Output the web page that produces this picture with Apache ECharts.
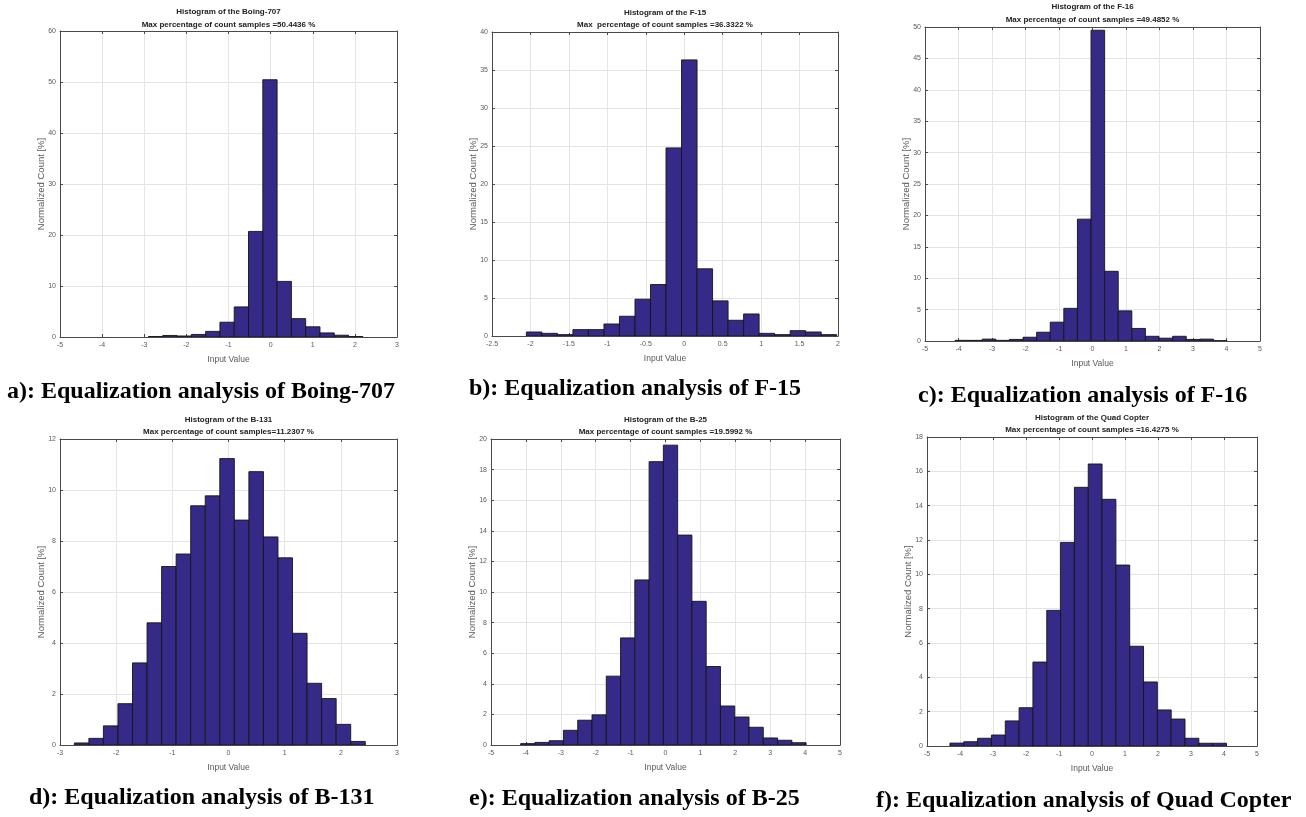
<!DOCTYPE html>
<html>
<head>
<meta charset="utf-8">
<title>Equalization analysis histograms</title>
<script src="https://cdn.jsdelivr.net/npm/echarts@6/dist/echarts.min.js"></script>
<style>
  html, body { margin: 0; background: #fff; }
  #chart { width: 1306px; height: 817px; }
</style>
</head>
<body>
<div id="chart"></div>
<script>
// bins: [first bin edge, bin width], heights in % per bin
const boingBins = [-2.9, 0.3393]
const boingCounts = [0.1, 0.3, 0.2, 0.5, 1.1, 2.9, 5.9, 20.7, 50.4436, 10.9, 3.6, 2.0, 0.8, 0.35, 0.1]

const f15Bins = [-2.053, 0.2018]
const f15Counts = [0.53, 0.35, 0.18, 0.84, 0.84, 1.58, 2.6, 4.84, 6.77, 24.75, 36.3322, 8.84, 4.62, 2.07, 2.9, 0.35, 0.18, 0.7, 0.53, 0.18]

const f16Bins = [-4.104, 0.406]
const f16Counts = [0.1, 0.1, 0.3, 0.1, 0.25, 0.6, 1.4, 3.0, 5.2, 19.4, 49.4852, 11.1, 4.8, 2.0, 0.75, 0.45, 0.75, 0.25, 0.3, 0.05]

const b131Bins = [-2.745, 0.259]
const b131Counts = [0.08, 0.26, 0.75, 1.62, 3.22, 4.79, 7.0, 7.49, 9.38, 9.77, 11.2307, 8.82, 10.72, 8.16, 7.34, 4.38, 2.42, 1.82, 0.81, 0.14]

const b25Bins = [-4.151, 0.409]
const b25Counts = [0.09, 0.17, 0.28, 0.96, 1.62, 1.97, 4.5, 7.0, 10.79, 18.52, 19.5992, 13.72, 9.39, 5.13, 2.55, 1.83, 1.16, 0.46, 0.31, 0.15]

const quadBins = [-4.304, 0.419]
const quadCounts = [0.17, 0.25, 0.45, 0.64, 1.46, 2.23, 4.89, 7.9, 11.86, 15.07, 16.4275, 14.37, 10.54, 5.81, 3.73, 2.1, 1.57, 0.45, 0.16, 0.16]

// axis ranges: [min, max, interval]
const xRanges = [[-5, 3, 1], [-2.5, 2, 0.5], [-5, 5, 1], [-3, 3, 1], [-5, 5, 1], [-5, 5, 1]]
const yRanges = [[0, 60, 10], [0, 40, 5], [0, 50, 5], [0, 12, 2], [0, 20, 2], [0, 18, 2]]

const titles = [
  ['Histogram of the Boing-707', 'Max percentage of count samples =50.4436 %'],
  ['Histogram of the F-15', 'Max  percentage of count samples =36.3322 %'],
  ['Histogram of the F-16', 'Max percentage of count samples =49.4852 %'],
  ['Histogram of the B-131', 'Max percentage of count samples=11.2307 %'],
  ['Histogram of the B-25', 'Max percentage of count samples =19.5992 %'],
  ['Histogram of the Quad Copter', 'Max percentage of count samples =16.4275 %']
]
const captions = [
  'a): Equalization analysis of Boing-707',
  'b): Equalization analysis of F-15',
  'c): Equalization analysis of F-16',
  'd): Equalization analysis of B-131',
  'e): Equalization analysis of B-25',
  'f): Equalization analysis of Quad Copter'
]

const allBins = [boingBins, f15Bins, f16Bins, b131Bins, b25Bins, quadBins]
const allCounts = [boingCounts, f15Counts, f16Counts, b131Counts, b25Counts, quadCounts]

// panel placement (pixels)
const boxes = [
  { left: 60, top: 31, width: 337, height: 306, titleY: 11.7, capX: 7, capY: 392 },
  { left: 492, top: 32, width: 346, height: 304, titleY: 12.3, capX: 469, capY: 389 },
  { left: 925, top: 27, width: 335, height: 314, titleY: 6.7, capX: 918, capY: 396 },
  { left: 60, top: 439, width: 337, height: 306, titleY: 419.3, capX: 29, capY: 798 },
  { left: 491, top: 439, width: 349, height: 306, titleY: 419.3, capX: 469, capY: 799 },
  { left: 927, top: 437, width: 330, height: 309, titleY: 417.3, capX: 876, capY: 801 }
]

const barColor = '#352a87'
const axisColor = '#4a4a4a'
const labelColor = '#5a5a5a'
const gridColor = '#e4e4e4'
const sans = 'Arial, "Liberation Sans"'

const histData = (bins, counts) =>
  counts.map((v, i) => [bins[0] + i * bins[1], bins[0] + (i + 1) * bins[1], v])

const renderBar = (params, api) => {
  const p0 = api.coord([api.value(0), api.value(2)])
  const p1 = api.coord([api.value(1), 0])
  return {
    type: 'rect',
    shape: { x: p0[0], y: p0[1], width: p1[0] - p0[0], height: p1[1] - p0[1] },
    style: { fill: barColor, stroke: '#151515', lineWidth: 0.9 }
  }
}

const grid = [], xAxis = [], yAxis = [], series = [], graphic = []
boxes.forEach((b, i) => {
  grid.push({ left: b.left, top: b.top, width: b.width, height: b.height, containLabel: false })
  const [xmin, xmax, xint] = xRanges[i]
  const [ymin, ymax, yint] = yRanges[i]
  // bottom / left axes with labels and grid lines
  xAxis.push({
    type: 'value', gridIndex: i, min: xmin, max: xmax, interval: xint,
    name: 'Input Value', nameLocation: 'middle', nameGap: 18,
    nameTextStyle: { color: labelColor, fontSize: 8.5, fontFamily: sans },
    axisLine: { show: true, onZero: false, lineStyle: { color: axisColor, width: 1 } },
    axisTick: { show: true, inside: true, length: 3, lineStyle: { color: axisColor } },
    axisLabel: { color: labelColor, fontSize: 7, margin: 5, fontFamily: sans },
    splitLine: { show: true, lineStyle: { color: gridColor, width: 1 } }
  })
  yAxis.push({
    type: 'value', gridIndex: i, min: ymin, max: ymax, interval: yint,
    name: 'Normalized Count [%]', nameLocation: 'middle', nameGap: 14, nameMoveOverlap: false,
    nameTextStyle: { color: labelColor, fontSize: 9.5, fontFamily: sans },
    axisLine: { show: true, onZero: false, lineStyle: { color: axisColor, width: 1 } },
    axisTick: { show: true, inside: true, length: 3, lineStyle: { color: axisColor } },
    axisLabel: { color: labelColor, fontSize: 7, margin: 4, fontFamily: sans },
    splitLine: { show: true, lineStyle: { color: gridColor, width: 1 } }
  })
  series.push({
    type: 'custom', xAxisIndex: i, yAxisIndex: i, clip: true,
    renderItem: renderBar, encode: { x: [0, 1], y: 2 },
    data: histData(allBins[i], allCounts[i]), z: 3
  })
  const cx = b.left + b.width / 2
  graphic.push({
    type: 'text', x: cx, y: b.titleY,
    style: { text: titles[i][0], align: 'center', verticalAlign: 'middle', fill: '#222', fontSize: 8, fontWeight: 'bold', fontFamily: sans }
  })
  graphic.push({
    type: 'text', x: cx, y: b.titleY + 12.7,
    style: { text: titles[i][1], align: 'center', verticalAlign: 'middle', fill: '#222', fontSize: 8, fontWeight: 'bold', fontFamily: sans }
  })
  graphic.push({
    type: 'text', x: b.capX, y: b.capY,
    style: { text: captions[i], align: 'left', verticalAlign: 'middle', fill: '#000', fontSize: 24, fontWeight: 'bold', fontFamily: '"Times New Roman", "Liberation Serif", serif' }
  })
})
// top / right axes: box outline with inward ticks, as in the MATLAB figure
boxes.forEach((b, i) => {
  const [xmin, xmax, xint] = xRanges[i]
  const [ymin, ymax, yint] = yRanges[i]
  xAxis.push({
    type: 'value', gridIndex: i, position: 'top', min: xmin, max: xmax, interval: xint,
    axisLine: { show: true, onZero: false, lineStyle: { color: axisColor, width: 1 } },
    axisTick: { show: true, inside: true, length: 3, lineStyle: { color: axisColor } },
    axisLabel: { show: false }, splitLine: { show: false }
  })
  yAxis.push({
    type: 'value', gridIndex: i, position: 'right', min: ymin, max: ymax, interval: yint,
    axisLine: { show: true, onZero: false, lineStyle: { color: axisColor, width: 1 } },
    axisTick: { show: true, inside: true, length: 3, lineStyle: { color: axisColor } },
    axisLabel: { show: false }, splitLine: { show: false }
  })
})

const myChart = echarts.init(document.getElementById('chart'))
const option = {
  backgroundColor: '#fff',
  animation: false,
  grid,
  xAxis,
  yAxis,
  series,
  graphic
}
option && myChart.setOption(option)
</script>
</body>
</html>
